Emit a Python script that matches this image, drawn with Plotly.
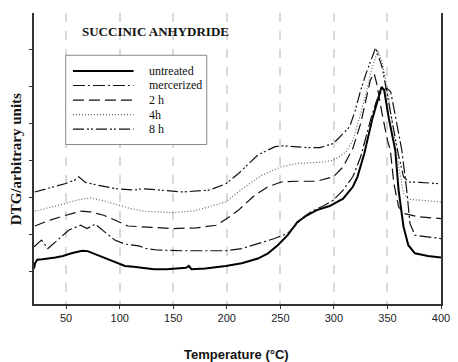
import plotly.graph_objects as go

# ---------------- data ----------------
x_untreated = [20, 21, 23, 28, 40, 47, 55, 65, 70, 83, 98, 105, 113, 118, 123, 132, 144, 158, 162, 164.5, 167,
               180, 190, 199, 214, 229, 238.5, 247.6, 256.8, 266, 275, 284, 296, 308.6, 317.7, 322, 328.4, 336,
               340, 344.5, 347, 351.3, 357.3, 360.4, 365, 369.5, 375.6, 387.8, 400]
y_untreated = [1.07, 1.21, 1.31, 1.32, 1.37, 1.41, 1.48, 1.55, 1.54, 1.39, 1.21, 1.14, 1.12, 1.10, 1.07, 1.05, 1.05,
               1.07, 1.09, 1.14, 1.05, 1.07, 1.10, 1.14, 1.21, 1.34, 1.48, 1.70, 1.97, 2.33, 2.51, 2.65, 2.76, 2.96,
               3.28, 3.55, 4.18, 5.13, 5.53, 5.98, 5.89, 5.13, 4.27, 3.19, 2.20, 1.70, 1.48, 1.41, 1.37]

x_mercerized = [20, 27, 33, 46.6, 52.7, 63.4, 69.5, 77, 86, 95.4, 105, 113.7, 118, 125, 135, 159, 190, 199, 214,
                229, 244.6, 256.8, 266, 272, 280, 290, 299.5, 308.6, 317.7, 325, 330, 335, 340, 345, 349.7, 353,
                357, 360, 363.4, 368, 371, 375.6, 387.8, 400]
y_mercerized = [1.66, 1.84, 1.61, 1.97, 2.11, 2.24, 2.15, 2.27, 2.06, 1.84, 1.73, 1.70, 1.68, 1.61, 1.57, 1.55,
                1.55, 1.55, 1.61, 1.75, 1.88, 2.02, 2.29, 2.47, 2.63, 2.76, 2.92, 3.19, 3.55, 4.09, 4.63, 5.17,
                5.62, 5.89, 5.94, 5.85, 5.26, 4.81, 4.27, 3.19, 2.29, 1.97, 1.93, 1.88]

x_2h = [20.7, 35, 49.7, 63.4, 72.5, 85, 95.4, 107.6, 125, 138, 150, 171.7, 190, 199, 211, 226, 238.5, 250.7, 265,
        284, 299.5, 308.6, 317.7, 325, 330, 334, 337.6, 340, 345, 350, 352.7, 356, 360.4, 365, 378.7, 400]
y_2h = [2.22, 2.38, 2.51, 2.62, 2.60, 2.51, 2.38, 2.22, 2.19, 2.17, 2.15, 2.17, 2.24, 2.40, 2.65, 3.05, 3.28, 3.41,
        3.43, 3.43, 3.55, 3.82, 4.32, 4.99, 5.62, 6.16, 6.34, 6.07, 5.26, 4.54, 4.27, 3.37, 2.74, 2.56, 2.47, 2.42]

x_4h = [20.7, 35, 49.7, 60, 72.5, 85, 98.4, 110, 122.8, 150, 170, 183.7, 199, 217, 232.5, 250.7, 266, 290, 300,
        311.6, 317.7, 325, 330, 335, 341, 345, 350, 355, 360, 365, 370, 380, 400]
y_4h = [2.62, 2.72, 2.83, 2.92, 2.98, 2.90, 2.78, 2.69, 2.62, 2.58, 2.63, 2.74, 2.87, 3.28, 3.59, 3.82, 3.91, 3.95,
        4.00, 4.23, 4.54, 5.26, 5.80, 6.43, 6.97, 6.66, 5.89, 4.90, 3.91, 3.10, 2.94, 2.92, 2.87]

x_8h = [20.7, 35, 49.7, 58, 61.8, 68, 80, 98.4, 113.7, 121, 135, 159, 183.7, 199, 211, 229, 244.6, 250.5, 275, 287,
        299.5, 314.7, 320, 325, 330, 335, 339, 345, 350, 355, 360, 365, 370, 380, 390, 400]
y_8h = [3.14, 3.25, 3.37, 3.46, 3.55, 3.40, 3.32, 3.22, 3.19, 3.23, 3.19, 3.14, 3.19, 3.36, 3.64, 4.14, 4.36, 4.39,
        4.34, 4.34, 4.45, 4.90, 5.35, 5.89, 6.34, 6.75, 7.04, 6.52, 5.71, 4.90, 4.18, 3.55, 3.41, 3.40, 3.37, 3.36]

series_names = ["untreated", "mercerized", "2 h", "4h", "8 h"]
x_ticks = [50, 100, 150, 200, 250, 300, 350, 400]
y_ticks = [1, 2, 3, 4, 5, 6, 7]

# ---------------- styles ----------------
styles = [
    dict(color="#000000", width=2.0, dash="solid"),
    dict(color="#111111", width=1.2, dash="12px,3px,2px,3px"),
    dict(color="#111111", width=1.2, dash="11px,5px"),
    dict(color="#666666", width=1.2, dash="1px,2px"),
    dict(color="#111111", width=1.2, dash="11px,3px,2px,2px,2px,3px"),
]
xs = [x_untreated, x_mercerized, x_2h, x_4h, x_8h]
ys = [y_untreated, y_mercerized, y_2h, y_4h, y_8h]

fig = go.Figure()
for name, x, y, st in zip(series_names, xs, ys, styles):
    fig.add_trace(go.Scatter(x=x, y=y, mode="lines", name=name, line=st, showlegend=False))

# ---------------- hand-drawn legend box (paper coordinates) ----------------
serif = "Liberation Serif"
shapes = [dict(type="rect", xref="paper", yref="paper", x0=0.078, x1=0.4245, y0=0.548, y1=0.8548,
               line=dict(color="#888888", width=1), fillcolor="white", layer="above")]
annotations = []
row_top, row_step = 0.8009, 0.0500
for i, (name, st) in enumerate(zip(series_names, styles)):
    yy = row_top - i * row_step
    shapes.append(dict(type="line", xref="paper", yref="paper", x0=0.0957, x1=0.2447, y0=yy, y1=yy,
                       line=dict(color=st["color"], width=st["width"], dash=st["dash"]), layer="above"))
    annotations.append(dict(text=name, xref="paper", yref="paper", x=0.2785, y=yy, xanchor="left",
                            yanchor="middle", showarrow=False,
                            font=dict(family=serif, size=12, color="#111111")))

annotations += [
    dict(text="<b>SUCCINIC ANHYDRIDE</b>", xref="paper", yref="paper", x=0.114, y=0.938,
         xanchor="left", yanchor="middle", showarrow=False,
         font=dict(family=serif, size=13, color="#111111")),
    dict(text="<b>DTG/arbitrary units</b>", xref="paper", yref="paper", x=-0.044, y=0.498,
         xanchor="center", yanchor="middle", textangle=-90, showarrow=False,
         font=dict(family=serif, size=15, color="#111111")),
    dict(text="<b>Temperature (°C)</b>", xref="paper", yref="paper", x=0.4986, y=-0.172,
         xanchor="center", yanchor="middle", showarrow=False,
         font=dict(family="Liberation Sans", size=13, color="#111111")),
]

axis_color = "#333333"
fig.update_layout(
    width=458, height=362,
    margin=dict(l=34, r=8, t=13, b=58),
    paper_bgcolor="white", plot_bgcolor="white",
    showlegend=False,
    shapes=shapes,
    annotations=annotations,
    xaxis=dict(
        range=[20, 400], tickvals=x_ticks, ticktext=[str(v) for v in x_ticks],
        ticks="outside", ticklen=3, tickcolor=axis_color,
        showline=True, linecolor=axis_color, linewidth=1.5, mirror=False,
        showgrid=True, gridcolor="#d9d9d9", gridwidth=1.5, griddash="dash",
        tickfont=dict(family="Liberation Sans", size=11, color="#222222"),
        zeroline=False,
    ),
    yaxis=dict(
        range=[0.11, 7.98], tickvals=y_ticks, showticklabels=False,
        ticks="outside", ticklen=3, tickcolor=axis_color,
        showline=True, linecolor=axis_color, linewidth=1.5, mirror=True,
        showgrid=False, zeroline=False,
    ),
)

fig.write_html("out.html")
